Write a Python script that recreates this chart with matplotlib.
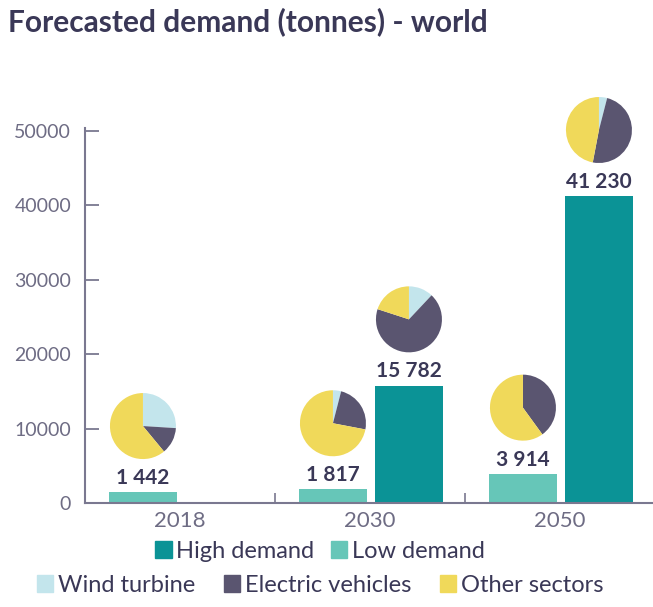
import matplotlib
matplotlib.use("Agg")
import matplotlib.pyplot as plt
from matplotlib.patches import Patch
import numpy as np

plt.rcParams['font.family'] = ['Lato', 'DejaVu Sans']

years = ["2018", "2030", "2050"]
low_demand = [1442, 1817, 3914]
high_demand = [0, 15782, 41230]
low_labels = ["1 442", "1 817", "3 914"]
high_labels = [None, "15 782", "41 230"]
y_ticks = [0, 10000, 20000, 30000, 40000, 50000]

pie_sectors = ["Wind turbine", "Electric vehicles", "Other sectors"]
# shares (%) for wind, EV, other
low_pies = [[26, 13, 61], [4, 24, 72], [0, 40, 60]]
high_pies = [None, [12, 68, 20], [4, 49, 47]]

c_high = "#0b9396"
c_low = "#66c6b8"
pie_colors = ["#c3e5ec", "#5a5570", "#f0d95a"]
dark = "#3a3857"
grey = "#6e6c84"
spine_c = "#7a7890"

fig = plt.figure(figsize=(6.53, 6.07), dpi=100)
ax = fig.add_axes([85/653, 1-503/607, 570/653, 375/607])

x = np.arange(len(years))
w = 0.36
off_low = -0.195
off_high = 0.205
ax.bar(x + off_low, low_demand, width=w, color=c_low, zorder=2)
ax.bar(x + off_high, high_demand, width=w, color=c_high, zorder=2)

ax.set_xlim(-0.5, 2.5)
ax.set_ylim(0, 50400)
ax.set_yticks(y_ticks)
ax.set_yticklabels([str(v) for v in y_ticks])
ax.set_xticks(x)
ax.set_xticklabels(years)
ax.set_xticks([0.5, 1.5], minor=True)
ax.tick_params(axis='y', direction='in', length=10, width=1.3, color=spine_c,
               labelsize=14, labelcolor=grey, pad=10)
ax.tick_params(axis='x', which='major', length=0, labelsize=16, labelcolor=grey, pad=6)
ax.tick_params(axis='x', which='minor', direction='in', length=7, width=1.2, color=spine_c)
for s in ['top', 'right']:
    ax.spines[s].set_visible(False)
for s in ['left', 'bottom']:
    ax.spines[s].set_color(spine_c)
    ax.spines[s].set_linewidth(1.5)

def label(xp, val, txt):
    ax.annotate(txt, (xp, val), xytext=(0, 3), textcoords='offset points',
                ha='center', va='bottom', fontsize=15, fontweight='bold', color=dark)

pie_off = 8900
pw = 0.35
ph = 8870

def pie(xp, val, shares):
    iax = ax.inset_axes([xp - pw/2, val + pie_off - ph/2, pw, ph], transform=ax.transData)
    iax.pie(shares, colors=pie_colors, startangle=90, counterclock=False,
            wedgeprops=dict(linewidth=0))
    iax.set_xlim(-1, 1)
    iax.set_ylim(-1, 1)
    iax.set_aspect('equal')
    iax.axis('off')

for i in range(len(years)):
    label(x[i] + off_low, low_demand[i], low_labels[i])
    pie(x[i] + off_low, low_demand[i], low_pies[i])
    if high_labels[i] is not None:
        label(x[i] + off_high, high_demand[i], high_labels[i])
        pie(x[i] + off_high, high_demand[i], high_pies[i])

fig.text(8/653, 1-22/607, "Forecasted demand (tonnes) - world", fontsize=21.5,
         fontweight='bold', color=dark, ha='left', va='center')

h1 = [Patch(color=c_high, label="High demand"), Patch(color=c_low, label="Low demand")]
fig.legend(handles=h1, loc='center', bbox_to_anchor=(320/653, 1-551/607), ncol=2,
           frameon=False, fontsize=17, handlelength=0.7, handleheight=0.7,
           handletextpad=0.2, columnspacing=0.7, labelcolor=dark)
h2 = [Patch(color=c, label=l) for c, l in zip(pie_colors, pie_sectors)]
fig.legend(handles=h2, loc='center', bbox_to_anchor=(320/653, 1-585/607), ncol=3,
           frameon=False, fontsize=17, handlelength=0.7, handleheight=0.7,
           handletextpad=0.2, columnspacing=1.2, labelcolor=dark)

fig.savefig("out.png", dpi=100)
